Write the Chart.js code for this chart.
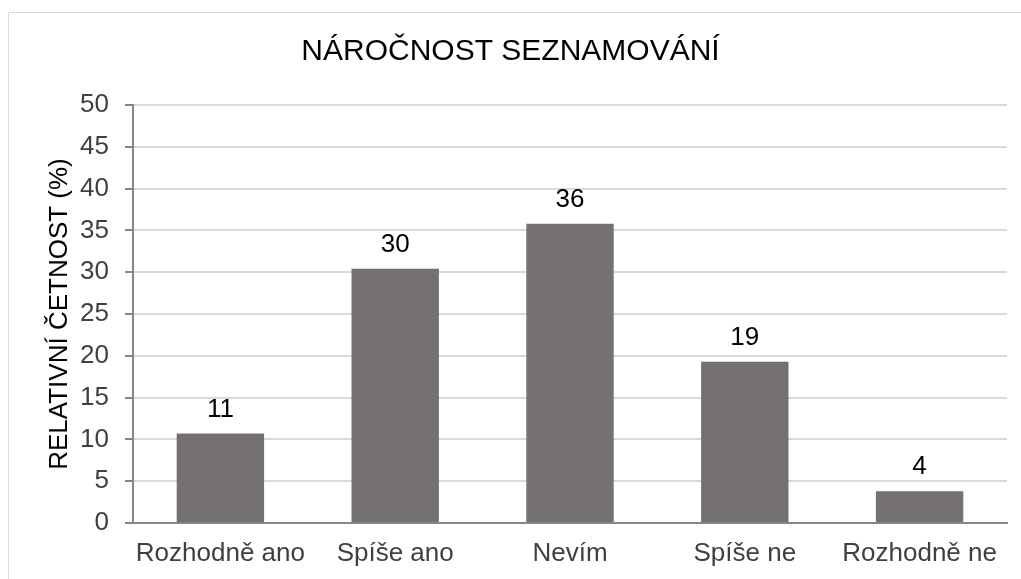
<!DOCTYPE html>
<html>
<head>
<meta charset="utf-8">
<script src="https://cdn.jsdelivr.net/npm/chart.js@4.4.0/dist/chart.umd.min.js"></script>
<style>
  html, body { margin: 0; padding: 0; background: #fff; }
  #wrap { width: 1021px; height: 579px; }
</style>
</head>
<body>
<div id="wrap"><canvas id="myChart" width="1021" height="579"></canvas></div>
<script>
// datos
const categorias = ['Rozhodně ano', 'Spíše ano', 'Nevím', 'Spíše ne', 'Rozhodně ne'];
const valores = [10.7, 30.4, 35.8, 19.3, 3.8];
const etiquetas = ['11', '30', '36', '19', '4'];
const titulo = 'NÁROČNOST SEZNAMOVÁNÍ';
const tituloY = 'RELATIVNÍ ČETNOST (%)';

const fuente = '"Liberation Sans", Arial, sans-serif';

// marco gris alrededor del gráfico
const marco = {
    id: 'marco',
    afterLayout(chart) {
        // centrar el título sobre todo el lienzo
        if (chart.titleBlock) {
            chart.titleBlock.left = 0;
            chart.titleBlock.right = chart.width;
        }
    },
    beforeDraw(chart) {
        const ctx = chart.ctx;
        ctx.save();
        ctx.strokeStyle = '#d9d9d9';
        ctx.lineWidth = 1;
        ctx.beginPath();
        ctx.moveTo(1021, 12.5);
        ctx.lineTo(8.5, 12.5);
        ctx.lineTo(8.5, 579);
        ctx.stroke();
        ctx.restore();
    }
};

// etiquetas de valor encima de cada barra
const etiquetasBarras = {
    id: 'etiquetasBarras',
    afterDatasetsDraw(chart) {
        const ctx = chart.ctx;
        const meta = chart.getDatasetMeta(0);
        ctx.save();
        ctx.font = '26px ' + fuente;
        ctx.fillStyle = '#000000';
        ctx.textAlign = 'center';
        ctx.textBaseline = 'alphabetic';
        meta.data.forEach((bar, i) => {
            ctx.fillText(etiquetas[i], bar.x, bar.y - 17);
        });
        ctx.restore();
    }
};

let ctx = document.getElementById('myChart').getContext('2d');

let myChart = new Chart(ctx, {
    type: 'bar',
    data: {
        labels: categorias,
        datasets: [{
            data: valores,
            backgroundColor: '#767171',
            borderWidth: 0,
            categoryPercentage: 1,
            barPercentage: 0.5
        }]
    },
    options: {
        responsive: false,
        animation: false,
        layout: { padding: { left: 0, right: 14, top: 0, bottom: 0 } },
        plugins: {
            legend: { display: false },
            tooltip: { enabled: false },
            title: {
                display: true,
                text: titulo,
                color: '#000000',
                font: { family: fuente, size: 30, weight: 'normal' },
                padding: { top: 34, bottom: 35 }
            }
        },
        scales: {
            x: {
                grid: { display: false, drawTicks: false },
                border: { display: true, color: '#868686', width: 2 },
                ticks: {
                    color: '#404040',
                    font: { family: fuente, size: 26 },
                    padding: 15,
                    maxRotation: 0,
                    autoSkip: false
                },
                afterFit(scale) { scale.height = 56; }
            },
            y: {
                min: 0,
                max: 50,
                ticks: {
                    stepSize: 5,
                    color: '#404040',
                    font: { family: fuente, size: 26 },
                    padding: 16
                },
                grid: {
                    color: '#d9d9d9',
                    lineWidth: 2,
                    tickColor: '#868686',
                    tickLength: 8
                },
                border: { display: true, color: '#868686', width: 2 },
                title: {
                    display: true,
                    text: tituloY,
                    color: '#000000',
                    font: { family: fuente, size: 26 },
                    padding: { top: 44, bottom: 0 }
                },
                afterFit(scale) { scale.width = 133; }
            }
        }
    },
    plugins: [marco, etiquetasBarras]
});
</script>
</body>
</html>
